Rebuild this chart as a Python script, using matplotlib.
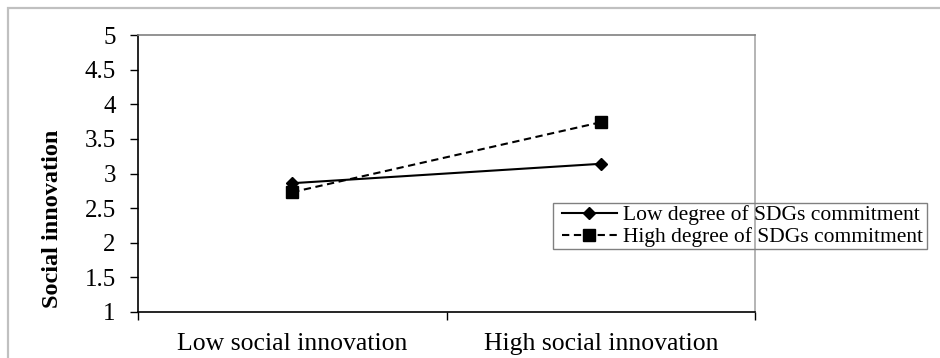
import matplotlib
matplotlib.use("Agg")
import matplotlib.pyplot as plt
from matplotlib.patches import Rectangle

plt.rcParams['font.family'] = ['Liberation Serif', 'DejaVu Serif']

categories = ["Low social innovation", "High social innovation"]
low_commit = [2.86, 3.14]
high_commit = [2.73, 3.74]
series_names = ["Low degree of SDGs commitment", "High degree of SDGs commitment"]
y_ticks = [1, 1.5, 2, 2.5, 3, 3.5, 4, 4.5, 5]
y_ticklabels = ["1", "1.5", "2", "2.5", "3", "3.5", "4", "4.5", "5"]

W, H = 940, 358
fig = plt.figure(figsize=(W / 100, H / 100), dpi=100)

# outer chart frame
fig.patches.append(Rectangle((8 / W, -0.1), 1.2, 1 - 8 / H + 0.1,
                             transform=fig.transFigure, fill=False,
                             edgecolor="#c0c0c0", linewidth=1.6, zorder=0))

ax = fig.add_axes([138 / W, 1 - 312 / H, (755 - 138) / W, (312 - 35) / H])

x = list(range(len(categories)))
ax.plot(x, low_commit, color="black", linestyle="-", linewidth=1.5,
        marker="D", markersize=6.2, label=series_names[0])
ax.plot(x, high_commit, color="black", linestyle=(0, (3.5, 2.2)), linewidth=1.5,
        marker="s", markersize=9, label=series_names[1])

ax.set_xlim(-0.5, len(categories) - 0.5)
ax.set_ylim(1, 5)
ax.set_yticks(y_ticks)
ax.set_yticklabels(y_ticklabels)

ax.set_xticks([i - 0.5 for i in range(len(categories) + 1)])
ax.set_xticklabels([])
ax.set_xticks(x, minor=True)
ax.set_xticklabels(categories, minor=True)
ax.tick_params(axis="x", which="major", direction="out", length=6, width=1)
ax.tick_params(axis="x", which="minor", length=0, pad=15, labelsize=18.5)
ax.tick_params(axis="y", direction="out", length=6, width=1, labelsize=18, pad=10)

for s in ("left", "bottom"):
    ax.spines[s].set_color("black")
    ax.spines[s].set_linewidth(1.2)
ax.spines["top"].set_color("#808080")
ax.spines["top"].set_linewidth(1.2)
ax.spines["right"].set_color("#a8a8a8")
ax.spines["right"].set_linewidth(1.2)

fig.text(53 / W, 1 - 219 / H, "Social innovation", rotation=90,
         fontsize=17.5, fontweight="bold", ha="center", va="center")

# legend entries without a frame; the box is drawn separately
leg = fig.legend(loc="upper left", bbox_to_anchor=(562 / W, 1 - 205 / H),
                 fontsize=15.5, frameon=False, handlelength=2.55,
                 handletextpad=0.3, borderpad=0, labelspacing=0.1,
                 borderaxespad=0)
fig.patches.append(Rectangle((553 / W, 1 - 249 / H), (927 - 553) / W, (249 - 203) / H,
                             transform=fig.transFigure, fill=False,
                             edgecolor="#808080", linewidth=1.0, zorder=3))

fig.savefig("out.png", dpi=100)
